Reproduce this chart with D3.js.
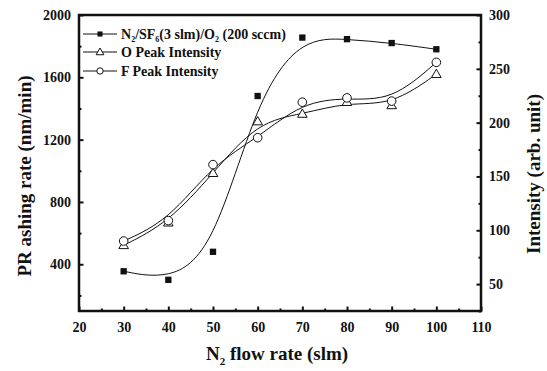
<!DOCTYPE html>
<html>
<head>
<meta charset="utf-8">
<script src="https://cdn.jsdelivr.net/npm/d3@7"></script>
<style>
  body { margin: 0; background: #fff; }
  svg text { font-family: "Liberation Serif", "Times New Roman", serif !important; font-weight: bold; fill: #111; }
</style>
</head>
<body>
<div id="chart"></div>
<script>
const flow = [30, 40, 50, 60, 70, 80, 90, 100];
const ashingRate = [355, 300, 480, 1480, 1855, 1845, 1820, 1780];
const oPeak = [86, 107, 153, 201, 208, 219, 216, 245];
const fPeak = [90, 109, 161, 186, 219, 223, 220, 256];

const xTicks = [20, 30, 40, 50, 60, 70, 80, 90, 100, 110];
const yLeftTicks = [400, 800, 1200, 1600, 2000];
const yRightTicks = [50, 100, 150, 200, 250, 300];

const width = 547, height = 371;
const margin = { left: 79, right: 66, top: 15, bottom: 60 };

const svg = d3.select("#chart").append("svg")
  .attr("width", width).attr("height", height)
  .attr("font-family", "Liberation Serif, serif");

const x = d3.scaleLinear().domain([20, 110]).range([margin.left, width - margin.right]);
const yL = d3.scaleLinear().domain([100, 2000]).range([height - margin.bottom, margin.top]);
const yR = d3.scaleLinear().domain([25, 300]).range([height - margin.bottom, margin.top]);

const x0 = x.range()[0], x1 = x.range()[1];
const yb = yL.range()[0], yt = yL.range()[1];
const fmt = d3.format("d");

// axes (ticks point inward)
const axisStyle = g => {
  g.attr("font-family", null);
  g.select(".domain").remove();
  g.selectAll("line").attr("stroke", "#111").attr("stroke-width", 2);
  g.selectAll("text").style("font-size", "14px");
};

svg.append("g").attr("transform", `translate(0,${yb})`)
  .call(d3.axisBottom(x).tickValues(d3.range(25, 110, 10)).tickSize(-2.5).tickFormat(""))
  .call(axisStyle);
svg.append("g").attr("transform", `translate(0,${yb})`)
  .call(d3.axisBottom(x).tickValues(xTicks).tickSize(-4.5).tickPadding(11).tickFormat(fmt))
  .call(axisStyle);

svg.append("g").attr("transform", `translate(${x0},0)`)
  .call(d3.axisLeft(yL).tickValues(d3.range(200, 2000, 400)).tickSize(-2.5).tickFormat(""))
  .call(axisStyle);
svg.append("g").attr("transform", `translate(${x0},0)`)
  .call(d3.axisLeft(yL).tickValues(yLeftTicks).tickSize(-4.5).tickPadding(8).tickFormat(fmt))
  .call(axisStyle);

svg.append("g").attr("transform", `translate(${x1},0)`)
  .call(d3.axisRight(yR).tickValues(d3.range(75, 300, 50).concat([25])).tickSize(-2.5).tickFormat(""))
  .call(axisStyle);
svg.append("g").attr("transform", `translate(${x1},0)`)
  .call(d3.axisRight(yR).tickValues(yRightTicks).tickSize(-4.5).tickPadding(8).tickFormat(fmt))
  .call(axisStyle);

// frame
svg.append("rect")
  .attr("x", x0).attr("y", yt).attr("width", x1 - x0).attr("height", yb - yt)
  .attr("fill", "none").attr("stroke", "#111").attr("stroke-width", 2.5);

// curves (B-spline through the measured points)
const lineL = d3.line().curve(d3.curveBasis).x((d, i) => x(flow[i])).y(d => yL(d));
const lineR = d3.line().curve(d3.curveBasis).x((d, i) => x(flow[i])).y(d => yR(d));

[[ashingRate, lineL], [oPeak, lineR], [fPeak, lineR]].forEach(([data, gen]) => {
  svg.append("path").attr("d", gen(data))
    .attr("fill", "none").attr("stroke", "#111").attr("stroke-width", 1);
});

// markers
const square = d3.symbol().type(d3.symbolSquare).size(40);
const triangle = d3.symbol().type(d3.symbolTriangle).size(40);

svg.append("g").selectAll("path").data(ashingRate).join("path")
  .attr("d", square)
  .attr("transform", (d, i) => `translate(${x(flow[i])},${yL(d)})`)
  .attr("fill", "#111");

svg.append("g").selectAll("path").data(oPeak).join("path")
  .attr("d", triangle)
  .attr("transform", (d, i) => `translate(${x(flow[i])},${yR(d) + 0.5})`)
  .attr("fill", "#fff").attr("stroke", "#111").attr("stroke-width", 1);

svg.append("g").selectAll("circle").data(fPeak).join("circle")
  .attr("cx", (d, i) => x(flow[i])).attr("cy", d => yR(d)).attr("r", 4.3)
  .attr("fill", "#fff").attr("stroke", "#111").attr("stroke-width", 1);

// legend
const legend = svg.append("g");
const rows = [
  { y: 34, sym: "square" },
  { y: 52, sym: "triangle" },
  { y: 71, sym: "circle" }
];
const lx = 100;
rows.forEach(r => {
  legend.append("line").attr("x1", lx - 17).attr("x2", lx + 17).attr("y1", r.y).attr("y2", r.y)
    .attr("stroke", "#111").attr("stroke-width", 1);
  if (r.sym === "square") {
    legend.append("path").attr("d", d3.symbol().type(d3.symbolSquare).size(26))
      .attr("transform", `translate(${lx},${r.y})`).attr("fill", "#111");
  } else if (r.sym === "triangle") {
    legend.append("path").attr("d", d3.symbol().type(d3.symbolTriangle).size(26))
      .attr("transform", `translate(${lx},${r.y + 0.5})`).attr("fill", "#fff").attr("stroke", "#111");
  } else {
    legend.append("circle").attr("cx", lx).attr("cy", r.y).attr("r", 3.2)
      .attr("fill", "#fff").attr("stroke", "#111");
  }
});

const tx = 121;
const t1 = legend.append("text").attr("x", tx).attr("y", 38.5).style("font-size", "14px");
t1.append("tspan").text("N");
t1.append("tspan").attr("dy", 3).style("font-size", "8px").text("2");
t1.append("tspan").attr("dy", -3).text("/SF");
t1.append("tspan").attr("dy", 3).style("font-size", "8px").text("6");
t1.append("tspan").attr("dy", -3).text("(3 slm)/O");
t1.append("tspan").attr("dy", 3).style("font-size", "8px").text("2");
t1.append("tspan").attr("dy", -3).text(" (200 sccm)");

legend.append("text").attr("x", tx).attr("y", 56.5).style("font-size", "14px").text("O Peak Intensity");
legend.append("text").attr("x", tx).attr("y", 75.5).style("font-size", "14px").text("F Peak Intensity");

// axis titles
svg.append("text")
  .attr("transform", `translate(31,176) rotate(-90)`)
  .attr("text-anchor", "middle").style("font-size", "19px")
  .text("PR ashing rate (nm/min)");

svg.append("text")
  .attr("transform", `translate(540,174) rotate(-90)`)
  .attr("text-anchor", "middle").style("font-size", "19px")
  .text("Intensity (arb. unit)");

const xt = svg.append("text")
  .attr("x", 277).attr("y", 360)
  .attr("text-anchor", "middle").style("font-size", "19px");
xt.append("tspan").text("N");
xt.append("tspan").attr("dy", 5).style("font-size", "11px").text("2");
xt.append("tspan").attr("dy", -5).text(" flow rate (slm)");
</script>
</body>
</html>
